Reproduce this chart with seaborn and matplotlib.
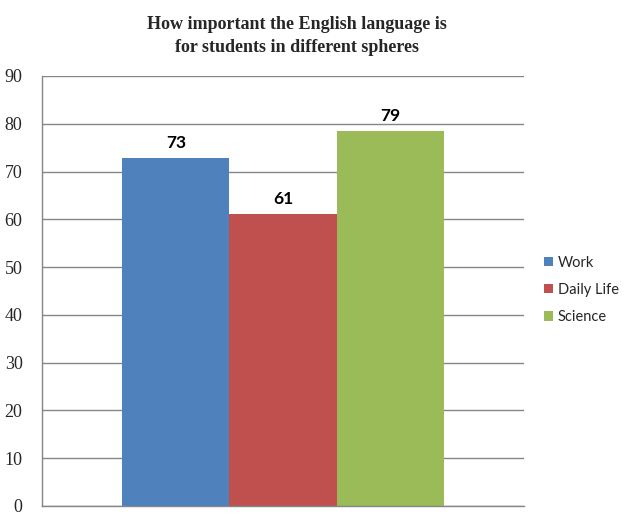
import matplotlib
matplotlib.use("Agg")
import matplotlib.pyplot as plt
import seaborn as sns
import pandas as pd
from matplotlib.patches import Patch

# ---- data ----
spheres = ["Work", "Daily Life", "Science"]
values = [72.9, 61.2, 78.4]
value_labels = ["73", "61", "79"]
colors = ["#4F81BD", "#C0504D", "#9BBB59"]
yticks = [0, 10, 20, 30, 40, 50, 60, 70, 80, 90]
title = "How important the English language is\nfor students in different spheres"

df = pd.DataFrame({"group": [""] * len(spheres), "sphere": spheres, "value": values})

sns.set_style("white")
plt.rcParams["font.family"] = ["DejaVu Sans"]

fig = plt.figure(figsize=(6.26, 5.18), dpi=100)
ax = fig.add_axes([42 / 626, 1 - 506 / 518, (524 - 42) / 626, (506 - 76) / 518])

sns.barplot(data=df, x="group", y="value", hue="sphere", hue_order=spheres,
            palette=colors, width=0.666, saturation=1, dodge=True, ax=ax,
            legend=False, errorbar=None, linewidth=0)

ax.set_xlim(-0.5, 0.5)
ax.set_ylim(0, 90)
ax.set_yticks(yticks)
ax.set_yticklabels([str(t) for t in yticks], family="Liberation Serif", fontsize=13)
ax.tick_params(axis="y", length=0, pad=14)
ax.tick_params(axis="x", length=0, labelbottom=False)
ax.set_xlabel("")
ax.set_ylabel("")
ax.yaxis.grid(True, color="#868686", linewidth=1)
ax.set_axisbelow(True)
for s in ["top", "right"]:
    ax.spines[s].set_visible(False)
for s in ["left", "bottom"]:
    ax.spines[s].set_color("#868686")
    ax.spines[s].set_linewidth(1)

for cont, lab in zip(ax.containers, value_labels):
    ax.bar_label(cont, labels=[lab], padding=5, fontsize=12.5,
                 fontweight="bold", family="Lato", color="black")

fig.text(297 / 626, 1 - 36 / 518, title, ha="center", va="center",
         family="Liberation Serif", fontweight="bold", fontsize=13,
         linespacing=1.5)

handles = [Patch(facecolor=c, edgecolor="none") for c in colors]
fig.legend(handles, spheres, loc="center left", bbox_to_anchor=(544 / 626, 1 - 290 / 518),
           frameon=False, prop={"family": "Lato", "size": 10.5},
           handlelength=0.6, handleheight=0.6, handletextpad=0.35,
           labelspacing=0.9, borderpad=0, borderaxespad=0)

fig.savefig("out.png", dpi=100)
